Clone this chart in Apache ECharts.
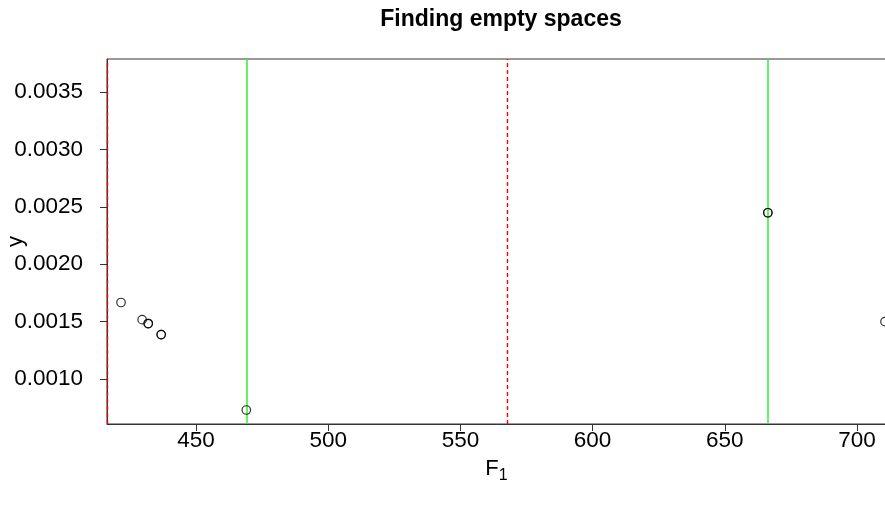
<!DOCTYPE html>
<html>
<head>
<meta charset="utf-8">
<script src="https://cdn.jsdelivr.net/npm/echarts@6/dist/echarts.min.js"></script>
<style>html,body{margin:0;padding:0;background:#fff}#c{width:885px;height:516px}</style>
</head>
<body>
<div id="c"></div>
<script>
// data
const pointsX = [421.6, 429.6, 431.9, 431.9, 436.8, 436.8, 469.0, 666.3, 666.3, 710.6];
const pointsY = [0.001666, 0.001517, 0.001483, 0.001483, 0.001387, 0.001387, 0.00073, 0.002448, 0.002448, 0.0015];
const greenLines = [469.0, 666.3];
const redLines = [416.5, 567.7];
const xTicks = [450, 500, 550, 600, 650, 700];
const yTicks = [0.0010, 0.0015, 0.0020, 0.0025, 0.0030, 0.0035];
const xRange = [416.3, 711.0];
const yRange = [0.000608, 0.003787];

const font = 'Liberation Sans, Arial, sans-serif';
const chart = echarts.init(document.getElementById('c'));
chart.setOption({
  animation: false,
  backgroundColor: '#ffffff',
  title: {
    text: 'Finding empty spaces',
    left: 496, top: 3, textAlign: 'center',
    textStyle: {fontFamily: font, fontWeight: 'bold', fontSize: 23, color: '#000'}
  },
  grid: {left: 107, top: 59, right: -1, bottom: 92, show: true, borderColor: '#333', borderWidth: 1, backgroundColor: 'transparent', outerBoundsMode: 'none', containLabel: false},
  xAxis: {
    type: 'value', min: xRange[0], max: xRange[1],
    name: '{a|F}{b|1}', nameLocation: 'middle', nameGap: 30, nameMoveOverlap: false,
    nameTextStyle: {rich: {a: {fontFamily: font, fontSize: 22, color: '#000'}, b: {fontFamily: font, fontSize: 16, color: '#000', verticalAlign: 'bottom', padding: [14, 0, 0, 0]}}},
    splitLine: {show: false},
    axisLine: {show: true, lineStyle: {color: '#333', width: 1}},
    axisTick: {show: true, inside: false, length: 7, customValues: xTicks, lineStyle: {color: '#333'}},
    axisLabel: {show: true, margin: 5, customValues: xTicks, fontFamily: font, fontSize: 22.5, color: '#000'}
  },
  yAxis: {
    type: 'value', min: yRange[0], max: yRange[1],
    name: 'y', nameLocation: 'middle', nameGap: 80, nameRotate: 90, nameMoveOverlap: false,
    nameTextStyle: {fontFamily: font, fontSize: 22, color: '#000'},
    splitLine: {show: false},
    axisLine: {show: true, lineStyle: {color: '#333', width: 1}},
    axisTick: {show: true, inside: false, length: 7, customValues: yTicks, lineStyle: {color: '#333'}},
    axisLabel: {show: true, margin: 24, customValues: yTicks, fontFamily: font, fontSize: 22.5, color: '#000',
      formatter: v => v.toFixed(4)}
  },
  series: [
    {
      type: 'scatter',
      data: pointsX.map((x, i) => [x, pointsY[i]]),
      symbol: 'circle', symbolSize: 8.5,
      itemStyle: {color: 'rgba(255,255,255,0)', borderColor: '#000', borderWidth: 1.2},
      z: 5,
      markLine: {
        silent: true, symbol: ['none', 'none'], label: {show: false},
        lineStyle: {color: '#33ee33', width: 1.5, type: 'solid'},
        data: greenLines.map(v => ({xAxis: v}))
      }
    },
    {
      type: 'scatter',
      data: [],
      markLine: {
        silent: true, symbol: ['none', 'none'], label: {show: false},
        lineStyle: {color: '#ff0000', width: 1.4, type: [4, 3], opacity: 1},
        data: redLines.map(v => ({xAxis: v}))
      }
    }
  ]
});
</script>
</body>
</html>
